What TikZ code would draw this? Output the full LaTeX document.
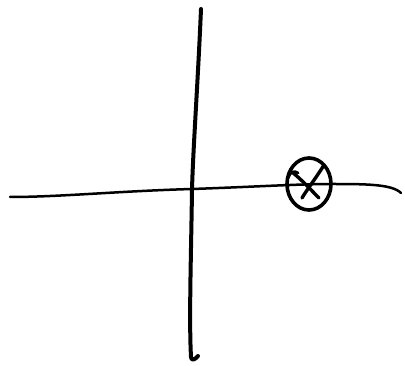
\documentclass[tikz,border=0pt]{standalone}
\begin{document}
\begin{tikzpicture}[x=1pt,y=-1pt,line cap=round,line join=round,
  pen/.style={draw=black,line width=#1}]
\useasboundingbox (0,0) rectangle (405,366);
% vertical stroke
\coordinate (vtop) at (201,9);
\coordinate (vbot) at (191,357);
\draw[pen=4pt] (vtop) .. controls (198,80) and (193,150) .. (192,190)
  .. controls (191,260) and (189,320) .. (vbot) .. controls (191,361) and (195,360) .. (198,356);
% horizontal stroke
\coordinate (hl) at (10,197);
\coordinate (hr) at (401,193);
\draw[pen=2.5pt] (hl) .. controls (60,197) and (120,191) .. (192,189)
  .. controls (250,187) and (300,184) .. (330,184)
  .. controls (365,184) and (392,184) .. (hr);
% circled cross
\coordinate (cc) at (309,184);
\draw[pen=3.6pt] (cc) ellipse [x radius=22, y radius=26];
\draw[pen=3.4pt] (324,165) .. controls (316,178) and (308,188) .. (302,198);
\draw[pen=3.4pt] (292,172) .. controls (302,180) and (311,190) .. (319,198);
\draw[pen=2.8pt] (288,178) .. controls (290,172) and (294,170) .. (298,173);
\end{tikzpicture}
\end{document}
